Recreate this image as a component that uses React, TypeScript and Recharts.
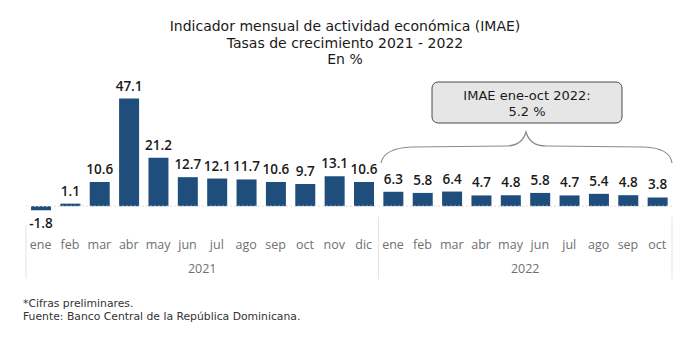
import React from 'react';
import { BarChart, Bar, XAxis, YAxis, LabelList, ReferenceLine } from 'recharts';

const months = ['ene', 'feb', 'mar', 'abr', 'may', 'jun', 'jul', 'ago', 'sep', 'oct', 'nov', 'dic', 'ene', 'feb', 'mar', 'abr', 'may', 'jun', 'jul', 'ago', 'sep', 'oct'];
const yearOfBar = ['2021', '2021', '2021', '2021', '2021', '2021', '2021', '2021', '2021', '2021', '2021', '2021', '2022', '2022', '2022', '2022', '2022', '2022', '2022', '2022', '2022', '2022'];
const values = [-1.8, 1.1, 10.6, 47.1, 21.2, 12.7, 12.1, 11.7, 10.6, 9.7, 13.1, 10.6, 6.3, 5.8, 6.4, 4.7, 4.8, 5.8, 4.7, 5.4, 4.8, 3.8];
const titleLines = ['Indicador mensual de actividad económica (IMAE)', 'Tasas de crecimiento 2021 - 2022', 'En %'];
const annotationLines = ['IMAE ene-oct 2022:', '5.2 %'];
const footnotes = ['*Cifras preliminares.', 'Fuente: Banco Central de la República Dominicana.'];

const W = 690;
const H = 345;
const M = { top: 92, right: 18, bottom: 66, left: 26 };
const PLOT_W = W - M.left - M.right;
const FONT = '"Open Sans", Lato, sans-serif';
const WIDE_FONT = '"DejaVu Sans", "Open Sans", sans-serif';
const BAR_COLOR = '#1f4e7c';
const AXIS_TEXT = '#707070';

const data = values.map((v, i) => ({ key: `${yearOfBar[i]}-${i}`, month: months[i], year: yearOfBar[i], value: v }));

const groups: { year: string; start: number; end: number }[] = [];
yearOfBar.forEach((y, i) => {
  const g = groups[groups.length - 1];
  if (g && g.year === y) g.end = i;
  else groups.push({ year: y, start: i, end: i });
});

const MonthTick = (props: any) => {
  const { x, y, index } = props;
  return (
    <text x={x} y={y + 20} textAnchor="middle" fontSize={12.5} fill={AXIS_TEXT} fontFamily={FONT}>
      {months[index]}
    </text>
  );
};

const YearTick = (props: any) => {
  const { x, y, index } = props;
  const band = PLOT_W / data.length;
  const els: React.ReactNode[] = [];
  groups.forEach((g, gi) => {
    const mid = (g.start + g.end) / 2;
    if (index === Math.floor(mid)) {
      els.push(
        <text key="t" x={x + (mid - index) * band} y={y + 24} textAnchor="middle" fontSize={12.5} fill={AXIS_TEXT} fontFamily={FONT}>
          {g.year}
        </text>
      );
    }
    if (index === g.start && gi === 0) {
      els.push(<line key="s" x1={x - band / 2} x2={x - band / 2} y1={y - 24} y2={y + 30} stroke="#e3e3e3" strokeWidth={1} />);
    }
    if (index === g.end) {
      els.push(<line key="e" x1={x + band / 2} x2={x + band / 2} y1={y - 32} y2={y + 30} stroke="#e3e3e3" strokeWidth={1} />);
    }
  });
  return <g>{els}</g>;
};

export default function App() {
  return (
    <div style={{ position: 'absolute', left: 0, top: 0, width: W, height: H, background: '#fff' }}>
      <BarChart width={W} height={H} data={data} margin={M}>
        <XAxis xAxisId="month" dataKey="key" axisLine={false} tickLine={false} tickSize={0} tickMargin={0} interval={0} height={20} tick={<MonthTick />} />
        <XAxis xAxisId="year" dataKey="key" axisLine={false} tickLine={false} tickSize={0} tickMargin={0} interval={0} height={30} tick={<YearTick />} />
        <YAxis hide domain={[-10, 50]} />
        <ReferenceLine xAxisId="month" y={0} stroke="#dcdcdc" strokeDasharray="2 2" />
        <Bar xAxisId="month" dataKey="value" fill={BAR_COLOR} barSize={20} isAnimationActive={false}>
          <LabelList dataKey="value" position="top" offset={8} fill="#1a1a1a" fontSize={13.5} fontWeight={600} fontFamily={FONT} formatter={(v: any) => Number(v).toFixed(1)} />
        </Bar>
      </BarChart>
      <svg width={W} height={H} style={{ position: 'absolute', left: 0, top: 0, pointerEvents: 'none' }}>
        {titleLines.map((t, i) => (
          <text key={i} x={345} y={31 + i * 16.5} textAnchor="middle" fontSize={14} fill="#1a1a1a" fontFamily={WIDE_FONT}>
            {t}
          </text>
        ))}
        <rect x={432} y={82} width={190} height={41} rx={6} ry={6} fill="#e6e6e6" stroke="#4a4a4a" strokeWidth={1} />
        {annotationLines.map((t, i) => (
          <text key={i} x={527} y={100 + i * 15.7} textAnchor="middle" fontSize={13} fill="#1a1a1a" fontFamily={WIDE_FONT}>
            {t}
          </text>
        ))}
        <path d="M 381 163 Q 384 148 412 147 L 506 146 Q 522 146 526 132 Q 530 146 546 146 L 644 147 Q 670 148 672 163" fill="none" stroke="#8a8a8a" strokeWidth={1.2} />
        {footnotes.map((t, i) => (
          <text key={i} x={23} y={307 + i * 12.8} fontSize={10.8} fill="#333" fontFamily={WIDE_FONT}>
            {t}
          </text>
        ))}
      </svg>
    </div>
  );
}
